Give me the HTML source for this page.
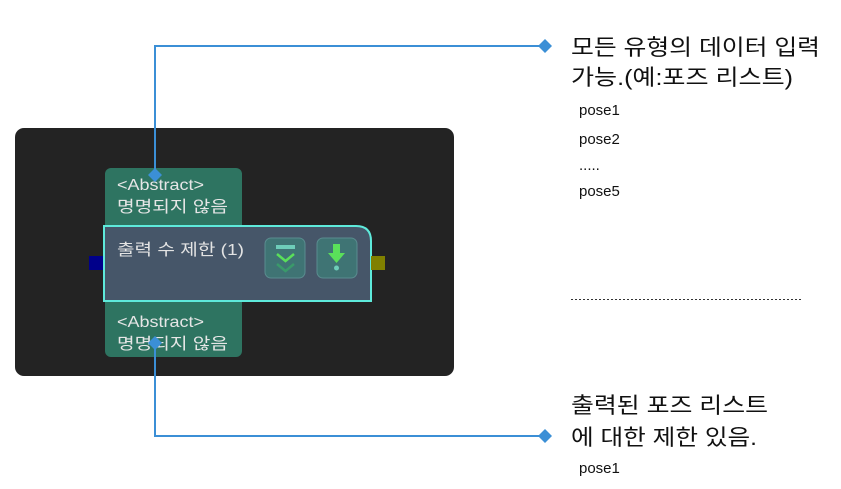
<!DOCTYPE html>
<html><head><meta charset="utf-8"><style>
html,body{margin:0;padding:0;background:#fff;width:841px;height:489px;overflow:hidden}
svg{display:block}
text{font-family:"Liberation Sans","Noto Sans CJK KR",sans-serif}
</style></head><body>
<svg width="841" height="489" viewBox="0 0 841 489" xmlns="http://www.w3.org/2000/svg">
<rect x="15" y="128" width="439" height="248" rx="9" fill="#232323"/>
<rect x="105" y="168" width="137" height="70" rx="6" fill="#2e7461"/>
<text x="117" y="190" font-size="16" fill="#e6e6e6" textLength="87" lengthAdjust="spacingAndGlyphs">&lt;Abstract&gt;</text>
<text x="117" y="212" font-size="16" fill="#e6e6e6" textLength="111" lengthAdjust="spacingAndGlyphs">명명되지 않음</text>
<rect x="105" y="290" width="137" height="67" rx="6" fill="#2e7461"/>
<text x="117" y="327" font-size="16" fill="#e6e6e6" textLength="87" lengthAdjust="spacingAndGlyphs">&lt;Abstract&gt;</text>
<text x="117" y="349" font-size="16" fill="#e6e6e6" textLength="111" lengthAdjust="spacingAndGlyphs">명명되지 않음</text>
<path d="M104 226 H356 Q371 226 371 241 V301 H104 Z" fill="#465669" stroke="#5eeadb" stroke-width="2"/>
<text x="117" y="255" font-size="16" fill="#e3e3e3" textLength="127" lengthAdjust="spacingAndGlyphs">출력 수 제한 (1)</text>
<rect x="265" y="238" width="40" height="40" rx="6" fill="#3f7474" stroke="#5a8c8f" stroke-width="1"/>
<rect x="276" y="245" width="19" height="4" fill="#6ecdb9"/>
<polyline points="277,254 285.5,261 294,254" fill="none" stroke="#5ae05a" stroke-width="2.5"/>
<polyline points="277,264 285.5,271 294,264" fill="none" stroke="#3a9a6a" stroke-width="2.5"/>
<rect x="317" y="238" width="40" height="40" rx="6" fill="#3f7474" stroke="#5a8c8f" stroke-width="1"/>
<path d="M333 244 H340 V253 H345 L336.5 263 L328 253 H333 Z" fill="#5ae05a"/>
<circle cx="336.5" cy="268" r="2.5" fill="#6ecdb9"/>
<rect x="89" y="256" width="14" height="14" fill="#00008a"/>
<rect x="371" y="256" width="14" height="14" fill="#808000"/>
<polyline points="155,175 155,46 545,46" fill="none" stroke="#3b8fd6" stroke-width="2"/>
<polyline points="155,343 155,436 545,436" fill="none" stroke="#3b8fd6" stroke-width="2"/>
<path d="M155 168 L162 175 L155 182 L148 175 Z" fill="#3b8fd6"/>
<path d="M155 336 L162 343 L155 350 L148 343 Z" fill="#3b8fd6"/>
<path d="M545 39 L552 46 L545 53 L538 46 Z" fill="#3b8fd6"/>
<path d="M545 429 L552 436 L545 443 L538 436 Z" fill="#3b8fd6"/>
<text x="571" y="55" font-size="22" fill="#111" textLength="249" lengthAdjust="spacingAndGlyphs">모든 유형의 데이터 입력</text>
<text x="571" y="85" font-size="22" fill="#111" textLength="222" lengthAdjust="spacingAndGlyphs">가능.(예:포즈 리스트)</text>
<text x="579" y="115" font-size="15" fill="#111">pose1</text>
<text x="579" y="144" font-size="15" fill="#111">pose2</text>
<text x="579" y="170" font-size="15" fill="#111">.....</text>
<text x="579" y="196" font-size="15" fill="#111">pose5</text>
<line x1="571" y1="299.5" x2="801" y2="299.5" stroke="#333" stroke-width="1" stroke-dasharray="2,2"/>
<text x="571" y="413" font-size="22" fill="#111" textLength="197" lengthAdjust="spacingAndGlyphs">출력된 포즈 리스트</text>
<text x="571" y="445" font-size="22" fill="#111" textLength="186" lengthAdjust="spacingAndGlyphs">에 대한 제한 있음.</text>
<text x="579" y="473" font-size="15" fill="#111">pose1</text>
</svg>
</body></html>
